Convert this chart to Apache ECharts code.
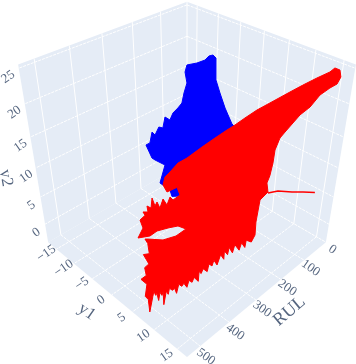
<!DOCTYPE html>
<html><head><meta charset="utf-8">
<style>html,body{margin:0;padding:0;background:#fff}#c{width:356px;height:364px}</style>
<script src="https://cdn.jsdelivr.net/npm/echarts@6/dist/echarts.min.js"></script>
</head><body><div id="c"></div>
<script>
// axis ranges and ticks
const rulRange=[0,543], y1Range=[-17.5,17], y2Range=[-3.5,25.5];
const rulTicks=[0,100,200,300,400,500];
const y1Ticks=[-15,-10,-5,0,5,10,15];
const y2Ticks=[0,5,10,15,20,25];
// blue trace
const blueRUL=[95.6,88.3,82.7,82.4,81.5,73.2,62.6,47.6,31,26,108,167.7,171.6,192.2,180.8,200.9,206.9,217.9,209.7,204.9,199.1,190.9,183,178.5,168.9,162.9,153.1,145.4,141.4,135.8,139.4,135.8,117.4,102.8];
const blueY1=[-6.32,-5.86,-5.5,-5.49,-5.43,-4.9,-4.2,-3.28,-2.22,-1.9,-7.1,-10.9,-11.15,-12.46,-11.74,-13,-13.4,-14.1,-13.6,-13.26,-12.9,-12.4,-11.9,-11.6,-11,-10.6,-10,-9.5,-9.24,-8.88,-9.11,-8.88,-7.71,-6.78];
const blueY2=[21.67,21.82,21.36,20.6,17.95,15.86,13.37,10.64,9.23,1.26,-2.7,-3,-1.7,-.31,3.18,4.13,4.5,6.9,7.27,9.23,8.7,10.1,9.94,11.84,11.33,12.53,13.37,14.2,15.86,17.47,19.2,20.3,20.6,21.05];
// red trace
const redRUL=[271.5,245.2,222.9,202.7,189.4,173,153.7,132.8,101.3,81.1,59.7,39.9,32.8,24.3,20.9,25.5,36.2,51,64.9,80.2,102.5,110.1,116.7,118.2,121.6,125.7,122.3,135.75,140,
 173.8,191.1,196.2,215.8,211.3,232.6,228,251.2,244.9,264.3,261.9,281.5,277.1,306.2,301.7,317.3,318.7,338.2,339.5,353.1,352.7,374.3,373.7,387.3,388.8,406.3,403.8,413.4,414.9,436.4,430.1,437.7,439.2,452.9,450.6,480,456,465.8,463.5,481.2,470.9,476.8,472.4,517.5,497.4,496.9,471.3,472.4,455.4,443.1,427.9,419,406.1,390,387.7,382,
 355.9,323.9,291.2,300.4,323.1,349.8,372.6,
 398.8,370.5,361,350.8,354.5,345.1,346.4,339,336.4,331.5,327.4,322.3,316,308.9,303,297.5,284.4,289.8,308.3,315.3,311.3,302.1,287.5];
const redY1=[-.25,1.42,2.84,4.12,4.97,6.01,7.24,8.56,10.56,11.85,13.2,14.46,14.91,15.46,15.67,15.38,14.7,13.76,12.88,11.9,10.49,10,9.58,9.49,9.27,9.01,9.23,8.38,8.11,
 9.75,9.92,9.08,9.86,8.88,9.54,8.32,9.11,8,8.78,7.93,8.94,7.97,8.89,7.91,8.43,7.83,8.61,7.77,8.17,7.68,8.83,7.85,8.25,7.65,8.3,7.45,7.6,7,7.9,7.04,7.06,6.46,7.1,6.49,7.9,6.14,6.53,5.92,6.81,5.7,5.83,5.1,7.27,5.53,4.8,3.41,2.08,2.15,.91,.87,-1.08,-.52,-2.01,-2.84,-2.49,
 -.58,.46,.76,-.58,-1.52,-2.45,-2.64,
 -3.8,-4.52,-5.93,-5.29,-5.52,-4.92,-5.01,-4.54,-4.37,-4.06,-3.8,-3.48,-3.08,-2.63,-2.25,-1.9,-1.07,-1.41,-2.59,-3.04,-2.78,-2.2,-1.27];
const redY2=[11.65,13.43,14.85,16.09,16.86,17.92,19.1,20.13,21.7,22.69,23.66,24.49,25.03,24.76,23.8,22.83,22.27,21.27,19.54,18.36,15.78,14.85,12.95,10.83,8.7,7.46,5.89,4.46,.4,
 -.08,-.72,-.65,-.92,-.75,-1.02,-.82,-1.11,-.92,-1.18,-1.05,-1.34,-1.18,-1.54,-1.38,-1.58,-1.51,-1.77,-1.68,-1.84,-1.77,-2.1,-1.97,-2.14,-2.07,-2.3,-2.17,-2.27,-2.2,-2.5,-2.34,-2.4,-2.34,-2.53,-2.43,-2.86,-2.43,-2.57,-2.47,-2.73,-2.5,-2.57,-2.43,-3.09,-2.7,-2.6,-2.2,-2.04,-1.91,-1.64,-1.51,-1.18,-1.15,-.6,-.31,-.31,
 -.35,-.13,.26,.43,.31,.14,-.13,
 -.24,.31,.78,1.66,2.28,2.28,3.38,3,4.82,3.38,4.1,3,4.64,3.56,5,4.46,5.36,6.7,5.89,7.11,8.49,9.33,10.83];
// thin red tail at low RUL
const tailRUL=[122.2,104.1,78,57.8,35.7];
const tailY1=[9.24,10.39,12.04,13.33,14.73];
const tailY2=[5.71,6.06,5.89,5.89,5.8];

// perspective view of the 3D box
const VIEW={cx:187,cy:162,f:638,d:5.92};
const nrm=(v,r)=>2*(v-r[0])/(r[1]-r[0])-1;
function proj(rul,y1,y2,boxed){
  const X=boxed?y1:nrm(y1,y1Range), Y=boxed?rul:nrm(rul,rulRange), Z=boxed?y2:nrm(y2,y2Range);
  const depth=VIEW.d-(X+Y+Z)/Math.sqrt(3);
  return [VIEW.cx+VIEW.f*((X-Y)/Math.SQRT2)/depth, VIEW.cy-VIEW.f*((2*Z-X-Y)/Math.sqrt(6))/depth];
}
const zip3=(a,b,c)=>a.map((v,i)=>proj(v,b[i],c[i]));
const c=echarts.init(document.getElementById('c'),null,{renderer:'canvas'});
const poly=(pts,fill,stroke)=>({type:'custom',coordinateSystem:'cartesian2d',silent:true,clip:false,data:[0],
  renderItem:(p,api)=>({type:'polygon',shape:{points:pts.map(q=>api.coord(q))},style:{fill,stroke:stroke||fill,lineWidth:stroke?1:0}})});
const panes=[[[-1,1,-1],[-1,-1,-1],[1,-1,-1],[1,1,-1]],[[-1,1,-1],[-1,-1,-1],[-1,-1,1],[-1,1,1]],[[-1,-1,-1],[1,-1,-1],[1,-1,1],[-1,-1,1]]]
 .map(f=>f.map(p=>proj(p[1],p[0],p[2],true)));
const segs={solid:[],dash:[]};
const add=(k,a,b)=>{segs[k].push(a,b,[null,null]);};
const rmin=rulRange[0],rmax=rulRange[1],amin=y1Range[0],amax=y1Range[1],zmin=y2Range[0],zmax=y2Range[1];
rulTicks.forEach(r=>{add('dash',proj(r,amin,zmin),proj(r,amax,zmin));add('solid',proj(r,amin,zmin),proj(r,amin,zmax));});
y1Ticks.forEach(a=>{add('dash',proj(rmin,a,zmin),proj(rmax,a,zmin));add('solid',proj(rmin,a,zmin),proj(rmin,a,zmax));});
y2Ticks.forEach(z=>{add('dash',proj(rmin,amin,z),proj(rmax,amin,z));add('dash',proj(rmin,amin,z),proj(rmin,amax,z));});
const gridLine=(d,type)=>({type:'line',data:d,connectNulls:false,showSymbol:false,symbol:'none',silent:true,lineStyle:{color:'#fff',width:1,type},z:2});
const DR=(rmax-rmin)/2, DA=(amax-amin)/2;
const text=(items,rotate,size)=>({type:'scatter',symbolSize:0,silent:true,z:6,clip:false,
  data:items.map(i=>({name:i[0],value:i[1]})),
  label:{show:true,position:'inside',rotate,formatter:'{b}',color:'#2a3f5f',fontFamily:'"Liberation Serif",serif',fontSize:size,align:'center',verticalAlign:'middle'}});
const fmt=v=>String(v).replace('-','\u2212');
c.setOption({animation:false,backgroundColor:'#fff',
 grid:{left:0,right:0,top:0,bottom:0},
 xAxis:{type:'value',min:0,max:356,show:false},
 yAxis:{type:'value',min:0,max:364,inverse:true,show:false},
 series:[
  ...panes.map(p=>Object.assign(poly(p,'#E5ECF6'),{z:1})),
  gridLine(segs.dash,[3,1]),gridLine(segs.solid,'solid'),
  Object.assign(poly(zip3(blueRUL,blueY1,blueY2),'#0000ff','#0000ff'),{z:3}),
  Object.assign(poly(zip3(redRUL,redY1,redY2),'#ff0000','#ff0000'),{z:4}),
  {type:'line',data:zip3(tailRUL,tailY1,tailY2),showSymbol:false,symbol:'none',silent:true,z:4,lineStyle:{color:'#ff0000',width:1.6}},
  text(rulTicks.map(r=>[fmt(r),proj(r+12,amax+DA*.11,zmin)]),-35,13),
  text(y1Ticks.map(a=>[fmt(a),proj(rmax+DR*.11,a-.3,zmin)]),35,13),
  text(y2Ticks.map(z=>[fmt(z),proj(rmax+DR*.11,amin,z-.6)]),35,13),
  text([['RUL',proj(270,amax+DA*.3,zmin)]],40,18),
  text([['y1',proj(rmax+DR*.29,0,zmin)]],-35,17),
  text([['y2',proj(rmax+DR*.31,amin,10.7)]],-80,17)
 ]});
</script></body></html>
